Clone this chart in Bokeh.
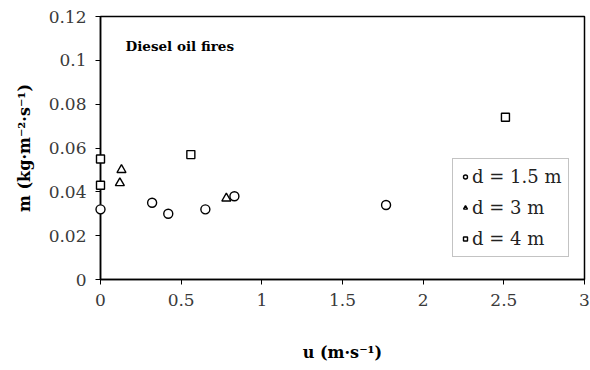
from bokeh.plotting import figure
from bokeh.models import Range1d, FixedTicker, Legend, LegendItem, Label
from bokeh.embed import file_html
from bokeh.resources import INLINE

# Wind speed u (m/s) and mass burning rate m (kg/m2/s) per pool diameter
u_15 = [0.0, 0.32, 0.42, 0.65, 0.83, 1.77]
m_15 = [0.032, 0.035, 0.030, 0.032, 0.038, 0.034]

u_3 = [0.12, 0.13, 0.78]
m_3 = [0.044, 0.050, 0.037]

u_4 = [0.0, 0.0, 0.56, 2.51]
m_4 = [0.055, 0.043, 0.057, 0.074]

x_ticks = [0, 0.5, 1, 1.5, 2, 2.5, 3]
y_ticks = [0, 0.02, 0.04, 0.06, 0.08, 0.1, 0.12]

SERIF = "DejaVu Serif"

p = figure(width=590, height=370, output_backend="svg", toolbar_location=None,
           x_range=Range1d(0, 3), y_range=Range1d(0, 0.12),
           min_border_left=100, min_border_right=6,
           min_border_top=16, min_border_bottom=91)

p.xgrid.visible = False
p.ygrid.visible = False
p.outline_line_color = "black"
p.outline_line_width = 1.5
p.background_fill_color = "white"
p.border_fill_color = "white"

for ax in (p.xaxis[0], p.yaxis[0]):
    ax.axis_line_color = "black"
    ax.axis_line_width = 1.5
    ax.major_tick_line_color = "black"
    ax.major_tick_in = 0
    ax.major_tick_out = 5
    ax.minor_tick_line_color = None
    ax.major_label_text_font = SERIF
    ax.major_label_text_font_size = "17px"
    ax.major_label_text_color = "#3a3a3a"
    ax.axis_label_text_font = SERIF
    ax.axis_label_text_font_size = "16px"
    ax.axis_label_text_font_style = "bold"
    ax.axis_label_text_color = "black"

p.xaxis.ticker = FixedTicker(ticks=x_ticks)
p.yaxis.ticker = FixedTicker(ticks=y_ticks)
p.xaxis.major_label_overrides = {0: "0", 0.5: "0.5", 1: "1", 1.5: "1.5", 2: "2", 2.5: "2.5", 3: "3"}
p.yaxis.major_label_overrides = {0: "0", 0.02: "0.02", 0.04: "0.04", 0.06: "0.06",
                                 0.08: "0.08", 0.1: "0.1", 0.12: "0.12"}
p.xaxis.major_label_standoff = 9
p.yaxis.major_label_standoff = 9
p.xaxis.axis_label = "u (m\u00b7s\u207b\u00b9)"
p.yaxis.axis_label = "m (kg\u00b7m\u207b\u00b2\u00b7s\u207b\u00b9)"
p.xaxis.axis_label_standoff = 34
p.yaxis.axis_label_standoff = 12

style = dict(fill_color="white", line_color="black", line_width=1.4, level="overlay")
r1 = p.scatter(u_15, m_15, marker="circle", size=9, **style)
r2 = p.scatter(u_3, m_3, marker="triangle", size=9, **style)
r3 = p.scatter(u_4, m_4, marker="square", size=8, **style)

p.add_layout(Label(x=25, y=226, x_units="screen", y_units="screen",
                   text="Diesel oil fires", text_font=SERIF, text_font_size="13.5px",
                   text_font_style="bold", text_color="black"))

legend = Legend(items=[LegendItem(label="d = 1.5 m", renderers=[r1]),
                       LegendItem(label="d = 3 m", renderers=[r2]),
                       LegendItem(label="d = 4 m", renderers=[r3])],
                location=(352, 22), orientation="vertical",
                label_text_font=SERIF, label_text_font_size="18px",
                label_text_color="#222222", label_standoff=2,
                glyph_width=10, glyph_height=21, spacing=10,
                padding=7, margin=0,
                border_line_color="#888888", border_line_width=1,
                background_fill_color="white", background_fill_alpha=1)
p.add_layout(legend)

open("out.html", "w").write(file_html(p, INLINE))
